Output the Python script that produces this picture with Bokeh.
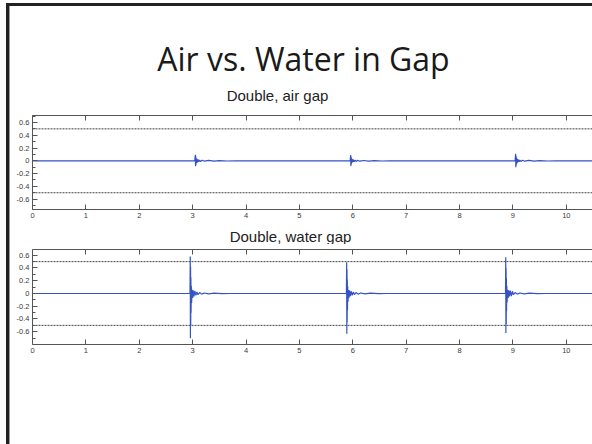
from bokeh.plotting import figure
from bokeh.layouts import column
from bokeh.models import Range1d, LinearAxis, FixedTicker
from bokeh.core.properties import value
from bokeh.embed import file_html
from bokeh.resources import INLINE

# ---------------- data ----------------
slide_title = "Air vs. Water in Gap"
air_title = "Double, air gap"
water_title = "Double, water gap"

x_ticks = [0, 1, 2, 3, 4, 5, 6, 7, 8, 9, 10]
y_ticks = [-0.6, -0.4, -0.2, 0.0, 0.2, 0.4, 0.6]
y_tick_labels = ["-0.6", "-0.4", "-0.2", "0", "0.2", "0.4", "0.6"]
y_minor_ticks = [-0.7, -0.5, -0.3, -0.1, 0.1, 0.3, 0.5, 0.7]
threshold = [0.5, -0.5]

# air gap trace (time, amplitude)
air_t1 = [3.040, 3.050, 3.054, 3.058, 3.062, 3.066, 3.072, 3.080, 3.090, 3.100, 3.115, 3.130, 3.150, 3.180, 3.220, 3.300, 3.400, 3.500, 3.650, 3.800]
air_v1 = [0.000, 0.095, -0.085, 0.070, -0.060, 0.040, -0.035, 0.030, -0.025, 0.020, -0.015, 0.012, -0.010, 0.008, -0.006, 0.006, -0.005, 0.004, -0.003, 0.000]
air_t2 = [5.950, 5.960, 5.964, 5.968, 5.972, 5.976, 5.982, 5.990, 6.000, 6.010, 6.025, 6.040, 6.060, 6.090, 6.130, 6.200, 6.300, 6.400, 6.550, 6.700]
air_v2 = [0.000, 0.090, -0.080, 0.065, -0.055, 0.040, -0.030, 0.028, -0.022, 0.018, -0.014, 0.011, -0.009, 0.007, -0.006, 0.005, -0.004, 0.004, -0.003, 0.000]
air_t3 = [9.040, 9.050, 9.054, 9.058, 9.062, 9.066, 9.072, 9.080, 9.090, 9.100, 9.115, 9.130, 9.150, 9.180, 9.220, 9.300, 9.400, 9.500, 9.650, 9.800]
air_v3 = [0.000, 0.110, -0.100, 0.080, -0.070, 0.050, -0.040, 0.032, -0.026, 0.020, -0.016, 0.012, -0.010, 0.008, -0.006, 0.006, -0.005, 0.004, -0.003, 0.000]

# water gap trace
water_t1 = [2.950, 2.955, 2.958, 2.961, 2.964, 2.967, 2.970, 2.975, 2.980, 2.990, 3.000, 3.010, 3.025, 3.040, 3.060, 3.080, 3.100, 3.130, 3.170, 3.220, 3.300, 3.400, 3.550, 3.700]
water_v1 = [0.000, 0.580, -0.700, 0.420, -0.500, 0.250, -0.300, 0.120, -0.150, 0.060, -0.070, 0.050, -0.045, 0.040, -0.030, 0.025, -0.020, 0.015, -0.010, 0.008, -0.006, 0.005, -0.003, 0.000]
water_t2 = [5.880, 5.885, 5.888, 5.891, 5.894, 5.897, 5.900, 5.905, 5.910, 5.920, 5.930, 5.940, 5.955, 5.970, 5.990, 6.010, 6.030, 6.060, 6.100, 6.150, 6.230, 6.330, 6.480, 6.630]
water_v2 = [0.000, 0.490, -0.630, 0.380, -0.450, 0.220, -0.260, 0.110, -0.130, 0.055, -0.065, 0.045, -0.040, 0.035, -0.028, 0.022, -0.018, 0.014, -0.010, 0.008, -0.006, 0.005, -0.003, 0.000]
water_t3 = [8.860, 8.865, 8.868, 8.871, 8.874, 8.877, 8.880, 8.885, 8.890, 8.900, 8.910, 8.920, 8.935, 8.950, 8.970, 8.990, 9.010, 9.040, 9.080, 9.130, 9.210, 9.310, 9.460, 9.610]
water_v3 = [0.000, 0.570, -0.620, 0.400, -0.480, 0.240, -0.280, 0.120, -0.140, 0.060, -0.070, 0.050, -0.045, 0.045, -0.040, 0.035, -0.020, 0.015, -0.010, 0.008, -0.006, 0.005, -0.003, 0.000]

trace_start = [0.0]
trace_end = [10.8]

air_t = trace_start + air_t1 + air_t2 + air_t3 + trace_end
air_v = [0.0] + air_v1 + air_v2 + air_v3 + [0.0]
water_t = trace_start + water_t1 + water_t2 + water_t3 + trace_end
water_v = [0.0] + water_v1 + water_v2 + water_v3 + [0.0]

# ---------------- style / layout ----------------
PAGE_W = 592
PAGE_H = 444
AX_LEFT = 32           # left edge of the plot frames
LINE_BLUE = "#3553c4"
AXIS_GREY = "#555555"
LABEL_GREY = "#3a3a3a"
BORDER = "#222222"


def blank_fig(height):
    # frame aligned with the plot frames; x coordinates are page pixels
    f = figure(width=PAGE_W, height=height, output_backend="svg", toolbar_location=None,
               x_range=Range1d(AX_LEFT, PAGE_W), y_range=Range1d(height, 0),
               min_border=0, min_border_left=AX_LEFT, min_border_right=0,
               min_border_top=0, min_border_bottom=0,
               background_fill_color=None, border_fill_color=None)
    f.axis.visible = False
    f.xgrid.visible = False
    f.ygrid.visible = False
    f.outline_line_color = None
    return f


def signal_fig(height, top, bottom, t, v, y0, y1):
    f = figure(width=PAGE_W, height=height, output_backend="svg", toolbar_location=None,
               x_range=Range1d(0, 10.49), y_range=Range1d(y0, y1),
               min_border_left=AX_LEFT, min_border_right=0,
               min_border_top=top, min_border_bottom=bottom,
               background_fill_color=None, border_fill_color=None)
    f.xgrid.visible = False
    f.ygrid.visible = False
    f.outline_line_color = None
    for yv in threshold:
        f.line([0, 10.8], [yv, yv], line_color="#444444", line_width=1, line_dash="2 1")
    f.line(t, v, line_color=LINE_BLUE, line_width=1.2)

    xa = f.xaxis[0]
    xa.ticker = FixedTicker(ticks=x_ticks)
    ya = f.yaxis[0]
    ya.ticker = FixedTicker(ticks=y_ticks, minor_ticks=y_minor_ticks)
    ya.major_label_overrides = {k: lab for k, lab in zip(y_ticks, y_tick_labels)}
    for ax in (xa, ya):
        ax.axis_line_color = AXIS_GREY
        ax.major_tick_line_color = AXIS_GREY
        ax.minor_tick_line_color = AXIS_GREY
        ax.major_tick_in = 5
        ax.major_tick_out = 0
        ax.minor_tick_in = 3
        ax.minor_tick_out = 0
        ax.major_label_text_font = "Liberation Sans"
        ax.major_label_text_font_size = "7.5px"
        ax.major_label_text_color = LABEL_GREY
        ax.major_label_standoff = 3
    xa.minor_tick_line_color = None

    top_axis = LinearAxis(ticker=FixedTicker(ticks=x_ticks))
    top_axis.axis_line_color = AXIS_GREY
    top_axis.major_tick_line_color = AXIS_GREY
    top_axis.minor_tick_line_color = None
    top_axis.major_tick_in = 5
    top_axis.major_tick_out = 0
    top_axis.major_label_overrides = {k: "" for k in x_ticks}
    top_axis.major_label_text_font_size = "1px"
    top_axis.major_label_standoff = 0
    f.add_layout(top_axis, "above")
    return f


HEADER_H = 108
header = blank_fig(HEADER_H)
header.text(x=[303], y=[58], text=[slide_title], text_font=value("Open Sans"),
            text_font_size="32px", text_align="center", text_baseline="middle", text_color="#1a1a1a")
header.text(x=[277], y=[95], text=[air_title], text_font=value("Liberation Sans"),
            text_font_size="15px", text_align="center", text_baseline="middle", text_color="#222222")

p_air = signal_fig(116, 7, 15, air_t, air_v, -0.762, 0.709)

mid = blank_fig(20)
mid.text(x=[290], y=[12], text=[water_title], text_font=value("Liberation Sans"),
         text_font_size="15px", text_align="center", text_baseline="middle", text_color="#222222")

p_water = signal_fig(118, 5, 18, water_t, water_v, -0.80, 0.69)

bottom_blank = blank_fig(PAGE_H - HEADER_H - 116 - 20 - 118)

# slide border (top and left edges) painted behind the transparent figures
slide_border = {
    "background": (
        f"linear-gradient({BORDER},{BORDER}) 6px 3px / {PAGE_W - 6}px 3px no-repeat, "
        f"linear-gradient({BORDER},{BORDER}) 6px 3px / 3px {PAGE_H - 3}px no-repeat, "
        f"linear-gradient(#9a9a9a,#9a9a9a) 9px 6px / 1px {PAGE_H - 6}px no-repeat, white"
    )
}

p = column(header, p_air, mid, p_water, bottom_blank, styles=slide_border)

open("out.html", "w").write(file_html(p, INLINE))
